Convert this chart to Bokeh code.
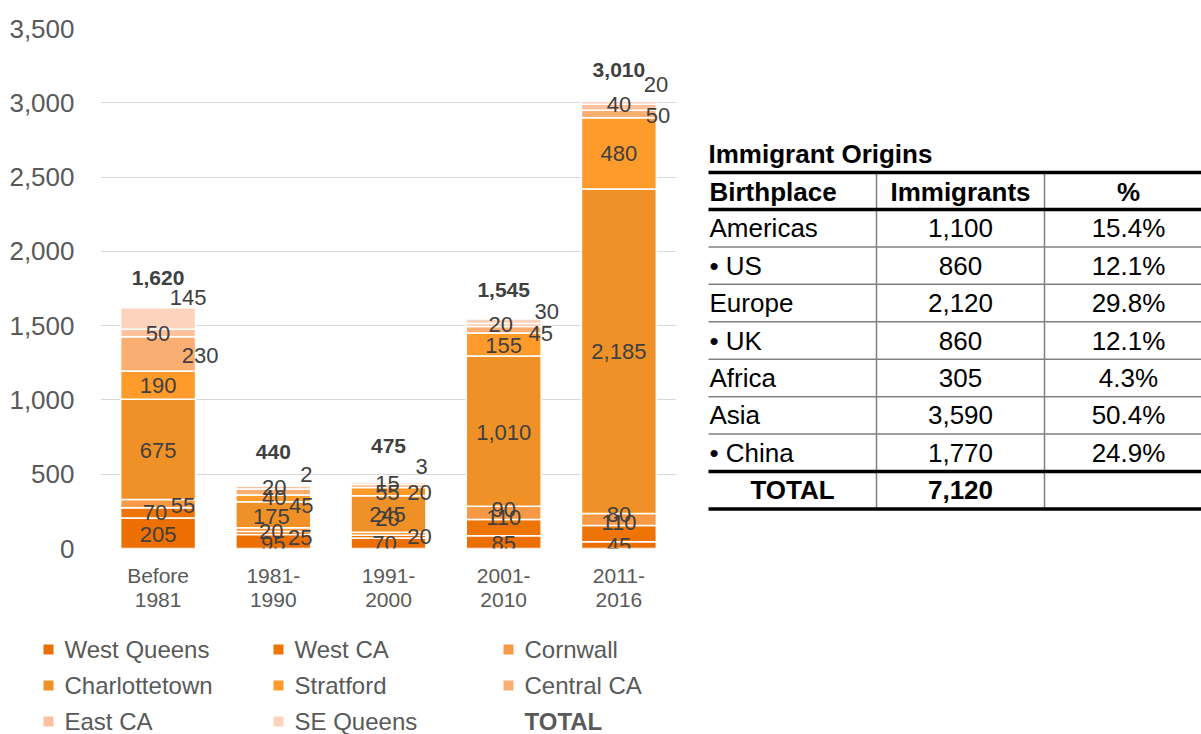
import numpy as np
from bokeh.plotting import figure
from bokeh.models import ColumnDataSource, FactorRange, Range1d, FixedTicker, NumeralTickFormatter
from bokeh.layouts import row, column
from bokeh.embed import file_html
from bokeh.resources import INLINE
from bokeh.core.properties import value

# ---------------- data ----------------
periods = ["Before\n1981", "1981-\n1990", "1991-\n2000", "2001-\n2010", "2011-\n2016"]
series = ["West Queens", "West CA", "Cornwall", "Charlottetown",
          "Stratford", "Central CA", "East CA", "SE Queens"]
west_queens = [205, 95, 70, 85, 45]
west_ca = [70, 20, 20, 110, 110]
cornwall = [55, 25, 20, 90, 80]
charlottetown = [675, 175, 245, 1010, 2185]
stratford = [190, 45, 55, 155, 480]
central_ca = [230, 40, 20, 45, 50]
east_ca = [50, 20, 15, 20, 40]
se_queens = [145, 2, 3, 30, 20]
totals = [1620, 440, 475, 1545, 3010]
y_ticks = [0, 500, 1000, 1500, 2000, 2500, 3000, 3500]

birthplace = ["Americas", "\u2022 US", "Europe", "\u2022 UK", "Africa", "Asia", "\u2022 China"]
immigrants = [1100, 860, 2120, 860, 305, 3590, 1770]
percent = [15.4, 12.1, 29.8, 12.1, 4.3, 50.4, 24.9]
total_immigrants = 7120

# ---------------- style ----------------
FONT = value("Liberation Sans")
colors = ["#EC6F04", "#EE7406", "#F89A45", "#EF9127",
          "#FE9B2A", "#FBAE72", "#FDC19D", "#FED3BD"]
# pixel nudges of data labels (per series, per period), as placed in the original
label_dx = [[0, 0, -4, 0, 0], [-3, -2, 31, 0, 0], [25, 27, -1, 0, 0], [0, -2, -1, 0, 0],
            [0, 28, -1, 0, 0], [42, 1, 31, 37, 39], [0, 1, -1, -3, 0], [30, 33, 33, 43, 37]]
label_dy = [[1, 2, 0, 1, 0], [0, -1, 0, -10, -11], [2, 8, -15, -3, -5], [1, 2, 1, 1, 0],
            [0, 7, 1, 1, 0], [2, 5, 6, 4, 2], [0, 0, 0, 0, -3], [-21, -11, -16, -10, -18]]
total_dy = [-30, -34, -36, -29, -31]

values = [west_queens, west_ca, cornwall, charlottetown, stratford, central_ca, east_ca, se_queens]
keys = ["s%d" % i for i in range(len(series))]

W, H = 1201, 734
CH = 628          # height of chart row
FT, FB = 28, 548  # frame top / bottom (page px)

# ---------------- chart ----------------
data = {"period": periods}
for k, v in zip(keys, values):
    data[k] = v
src = ColumnDataSource(data)

p = figure(width=700, height=CH, x_range=FactorRange(*periods, range_padding=0),
           y_range=Range1d(0, 3500), toolbar_location=None, output_backend="svg",
           min_border_left=100, min_border_right=24, min_border_top=FT,
           min_border_bottom=CH - FB)
p.outline_line_color = None
p.vbar_stack(keys, x="period", width=0.65, source=src, fill_color=colors,
             line_color="white", line_width=1.5)

arr = np.array(values, dtype=float)
bottoms = np.vstack([np.zeros(arr.shape[1]), np.cumsum(arr, axis=0)[:-1]])
lx, ly, lt, ldx, ldy = [], [], [], [], []
for i in range(arr.shape[0]):
    for j in range(arr.shape[1]):
        lx.append(periods[j])
        ly.append(bottoms[i, j] + arr[i, j] / 2)
        lt.append("{:,}".format(int(arr[i, j])))
        ldx.append(label_dx[i][j])
        ldy.append(label_dy[i][j])
lab_src = ColumnDataSource(dict(x=lx, y=ly, text=lt, dx=ldx, dy=ldy))
p.text(x="x", y="y", text="text", x_offset="dx", y_offset="dy", source=lab_src,
       text_align="center", text_baseline="middle", text_font=FONT,
       text_font_size="22px", text_color="#404040")

stack_top = arr.sum(axis=0)
tot_src = ColumnDataSource(dict(x=periods, y=stack_top, text=["{:,}".format(t) for t in totals],
                                dy=total_dy))
p.text(x="x", y="y", text="text", y_offset="dy", source=tot_src,
       text_align="center", text_baseline="middle", text_font=FONT,
       text_font_size="21px", text_font_style="bold", text_color="#404040")

p.xgrid.visible = False
p.ygrid.grid_line_color = "#D9D9D9"
p.ygrid.grid_line_width = 1.2
p.yaxis.ticker = FixedTicker(ticks=y_ticks)
p.yaxis.formatter = NumeralTickFormatter(format="0,0")
for ax in (p.xaxis[0], p.yaxis[0]):
    ax.axis_line_color = None
    ax.major_tick_line_color = None
    ax.minor_tick_line_color = None
    ax.major_label_text_color = "#595959"
    ax.major_label_text_font = "Liberation Sans"
p.yaxis.major_label_text_font_size = "26px"
p.yaxis.major_label_standoff = 20
p.xaxis.major_label_text_font_size = "21px"
p.xaxis.major_label_standoff = 9
p.xaxis.major_label_text_line_height = 1.05

# ---------------- table ----------------
# the row layout aligns plot frames, so the table frame shares the chart frame's top/bottom
tb = figure(width=W - 700, height=CH, x_range=Range1d(700, W), y_range=Range1d(FB, FT),
            toolbar_location=None, output_backend="svg", x_axis_type=None, y_axis_type=None,
            min_border_left=0, min_border_right=0, min_border_top=FT,
            min_border_bottom=CH - FB)
tb.outline_line_color = None
tb.grid.visible = False
TF = "26px"
x0, xc1, xc2, xright = 708, 876, 1044, W
top, head_bot = 172, 209
row_h = 37.43
col2_c, col3_c = (xc1 + xc2) / 2, 1128
rows_bot = head_bot + row_h * len(birthplace)
tot_bot = rows_bot + row_h
tb.text(x=[x0], y=[153], text=["Immigrant Origins"], text_align="left", text_baseline="middle",
        text_font=FONT, text_font_size=TF, text_font_style="bold", text_color="black")
tb.text(x=[x0 + 1, col2_c, col3_c], y=[191] * 3, text=["Birthplace", "Immigrants", "%"],
        text_align=["left", "center", "center"], text_baseline="middle", text_font=FONT,
        text_font_size=TF, text_font_style="bold", text_color="black")
ry = [head_bot + row_h * (i + 0.5) for i in range(len(birthplace))]
tb.text(x=[x0 + 1] * len(ry), y=ry, text=birthplace, text_align="left", text_baseline="middle",
        text_font=FONT, text_font_size=TF, text_color="black")
tb.text(x=[col2_c] * len(ry), y=ry, text=["{:,}".format(v) for v in immigrants],
        text_align="center", text_baseline="middle", text_font=FONT, text_font_size=TF,
        text_color="black")
tb.text(x=[col3_c] * len(ry), y=ry, text=["{:.1f}%".format(v) for v in percent],
        text_align="center", text_baseline="middle", text_font=FONT, text_font_size=TF,
        text_color="black")
tb.text(x=[(x0 + xc1) / 2, col2_c], y=[rows_bot + row_h / 2] * 2,
        text=["TOTAL", "{:,}".format(total_immigrants)], text_align="center",
        text_baseline="middle", text_font=FONT, text_font_size=TF, text_font_style="bold",
        text_color="black")
sep_y = [head_bot + row_h * (i + 1) for i in range(len(birthplace) - 1)]
tb.segment(x0=[x0] * len(sep_y), y0=sep_y, x1=[xright] * len(sep_y), y1=sep_y,
           line_color="#808080", line_width=1.5)
tb.segment(x0=[xc1, xc2], y0=[top] * 2, x1=[xc1, xc2], y1=[tot_bot] * 2,
           line_color="#808080", line_width=1.5)
thick = [top, head_bot, rows_bot, tot_bot]
tb.segment(x0=[x0] * 4, y0=thick, x1=[xright] * 4, y1=thick, line_color="black", line_width=3.5)

# ---------------- legend ----------------
lg = figure(width=W, height=H - CH, x_range=Range1d(0, W), y_range=Range1d(H, CH),
            toolbar_location=None, output_backend="svg", x_axis_type=None, y_axis_type=None,
            min_border=0)
lg.outline_line_color = None
lg.grid.visible = False
mx, my, tx = [], [], []
for i, name in enumerate(series):
    r, c = divmod(i, 3)
    mx.append(48 + 230 * c)
    my.append(649 + 36 * r)
    tx.append(64 + 230 * c)
lg.scatter(x=mx, y=my, marker="square", size=10, fill_color=colors, line_color=None)
lg.text(x=tx, y=my, text=series, text_align="left", text_baseline="middle",
        text_font=FONT, text_font_size="24px", text_color="#595959")
lg.text(x=[64 + 230 * 2], y=[649 + 36 * 2], text=["TOTAL"], text_align="left",
        text_baseline="middle", text_font=FONT, text_font_size="24px",
        text_font_style="bold", text_color="#595959")

layout = column(row(p, tb), lg)
open("out.html", "w").write(file_html(layout, INLINE))
